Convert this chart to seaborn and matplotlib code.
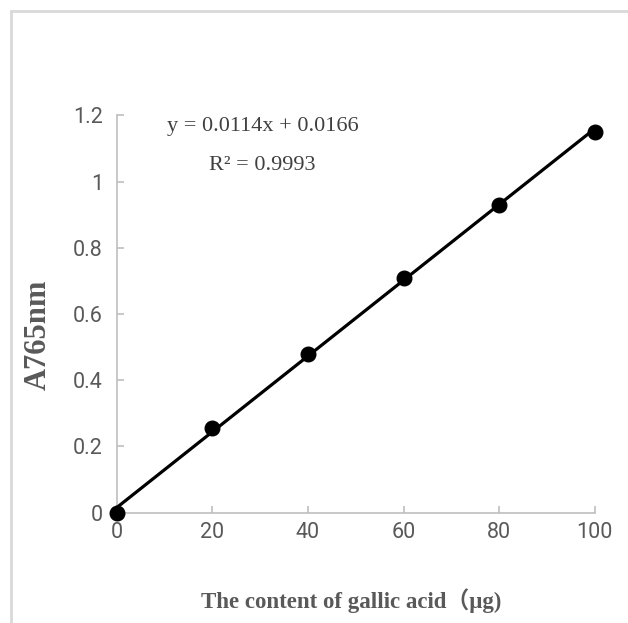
import matplotlib
matplotlib.use('Agg')
import matplotlib.pyplot as plt
from matplotlib.lines import Line2D
from matplotlib.ticker import FuncFormatter
import seaborn as sns
import pandas as pd

# gallic acid standard curve
content_ug = [0, 20, 40, 60, 80, 100]
absorbance = [0.0, 0.255, 0.48, 0.71, 0.93, 1.15]
equation = "y = 0.0114x + 0.0166"
r_squared = "R² = 0.9993"

x_ticks = [0, 20, 40, 60, 80, 100]
y_ticks = [0, 0.2, 0.4, 0.6, 0.8, 1.0, 1.2]

df = pd.DataFrame({"content": content_ug, "a765": absorbance})

sns.set_theme(style="white")
plt.rcParams['font.family'] = ['Roboto', 'DejaVu Sans']

TICK_COLOR = "#595959"
SPINE_COLOR = "#bfbfbf"

fig = plt.figure(figsize=(6.28, 6.23), dpi=100)
ax = fig.add_axes([0.186, 0.177, 0.761, 0.638])

sns.regplot(data=df, x="content", y="a765", ci=None, truncate=True, ax=ax,
            color="black",
            scatter_kws={"s": 110, "clip_on": False, "zorder": 4, "alpha": 1},
            line_kws={"linewidth": 2.3, "clip_on": False, "zorder": 3})

ax.set_xlim(0, 100)
ax.set_ylim(0, 1.2)
ax.set_xticks(x_ticks)
ax.set_yticks(y_ticks)
ax.yaxis.set_major_formatter(FuncFormatter(lambda v, p: f"{v:g}"))

for side in ["top", "right"]:
    ax.spines[side].set_visible(False)
for side in ["left", "bottom"]:
    ax.spines[side].set_color(SPINE_COLOR)
    ax.spines[side].set_linewidth(1.2)

ax.tick_params(axis="both", direction="in", length=5, width=1.2,
               color=SPINE_COLOR, labelcolor=TICK_COLOR, labelsize=15.5)
ax.tick_params(axis="x", pad=7, bottom=True)
ax.tick_params(axis="y", pad=10, left=True)

ax.set_xlabel("The content of gallic acid（μg)",
              family=["Liberation Serif", "Noto Sans CJK SC"],
              weight="bold", size=16.5, color=TICK_COLOR)
ax.set_ylabel("A765nm", family="Liberation Serif", weight="bold",
              size=22, color=TICK_COLOR)
ax.xaxis.set_label_coords(0.49, -0.22)
ax.yaxis.set_label_coords(-0.165, 0.447)
ax.xaxis.label.set_va("center")
ax.yaxis.label.set_va("center")

ax.text(30.5, 1.167, equation, ha="center", va="center",
        family="Liberation Serif", fontsize=16, color="#404040")
ax.text(30.5, 1.049, r_squared, ha="center", va="center",
        family="Liberation Serif", fontsize=16, color="#404040")

# chart area border
fig.add_artist(Line2D([0.017, 1.0], [0.982, 0.982], color="#d9d9d9",
                      linewidth=2, transform=fig.transFigure))
fig.add_artist(Line2D([0.017, 0.017], [0.0, 0.982], color="#d9d9d9",
                      linewidth=2, transform=fig.transFigure))

fig.savefig("out.png", dpi=100, facecolor="white")
